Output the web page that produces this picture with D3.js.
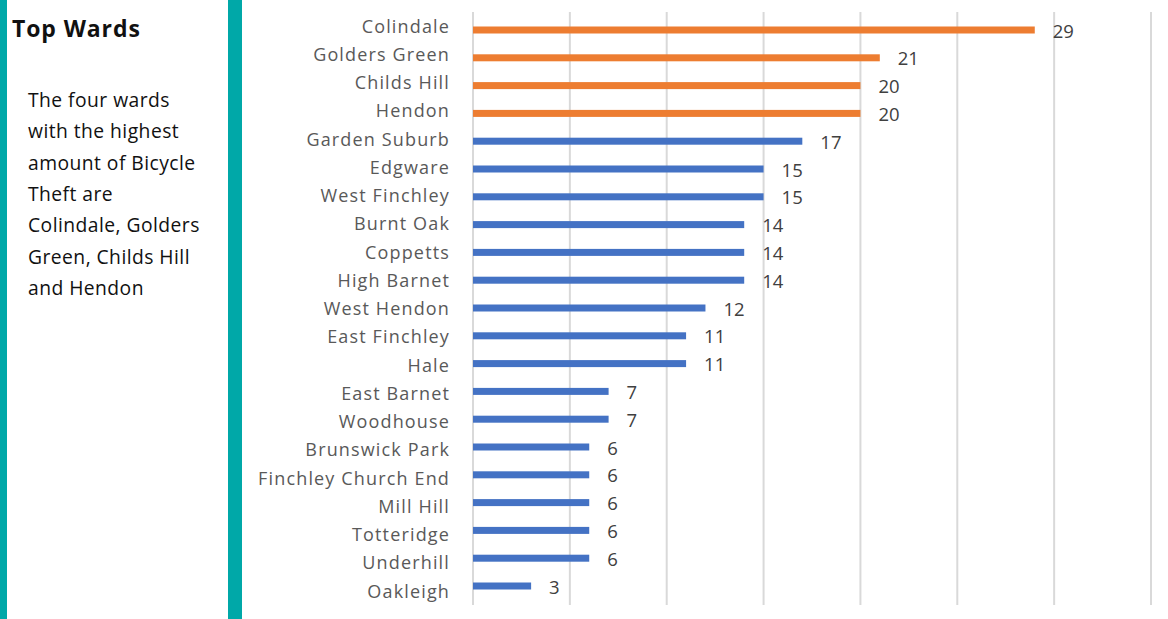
<!DOCTYPE html>
<html><head><meta charset="utf-8">
<script src="https://cdn.jsdelivr.net/npm/d3@7"></script>
<style>
html,body{margin:0;padding:0;background:#fff;}
svg{display:block;}
</style></head>
<body>
<svg id="chart" width="1168" height="619"></svg>
<script>
const wards = ["Colindale","Golders Green","Childs Hill","Hendon","Garden Suburb","Edgware","West Finchley","Burnt Oak","Coppetts","High Barnet","West Hendon","East Finchley","Hale","East Barnet","Woodhouse","Brunswick Park","Finchley Church End","Mill Hill","Totteridge","Underhill","Oakleigh"];
const thefts = [29,21,20,20,17,15,15,14,14,14,12,11,11,7,7,6,6,6,6,6,3];
const topWards = ["Colindale","Golders Green","Childs Hill","Hendon"];
const xTicks = [0,5,10,15,20,25,30,35];
const panelTitle = "Top Wards";
const panelLines = ["The four wards","with the highest","amount of Bicycle","Theft are","Colindale, Golders","Green, Childs Hill","and Hendon"];

const svg = d3.select("#chart");
const teal = "#00A8A8";
const font = "'Open Sans', sans-serif";

// side panel
svg.append("rect").attr("x",0).attr("y",0).attr("width",7).attr("height",619).attr("fill",teal);
svg.append("rect").attr("x",228).attr("y",0).attr("width",14).attr("height",619).attr("fill",teal);
svg.append("text").attr("x",12).attr("y",37).attr("font-family",font)
  .attr("font-weight","bold").attr("font-size",23).attr("letter-spacing","0.9px")
  .attr("fill","#111").text(panelTitle);
svg.append("g").selectAll("text").data(panelLines).join("text")
  .attr("x",28).attr("y",(d,i)=>107+i*31.3)
  .attr("font-family",font).attr("font-size",19.3).attr("letter-spacing","0.45px").attr("fill","#111")
  .text(d=>d);

// chart
const x = d3.scaleLinear().domain([0,35]).range([473,1151]);
const y = d3.scalePoint().domain(wards).range([30,586]);
const yLab = d3.scalePoint().domain(wards).range([26,591]);

svg.append("g").selectAll("line").data(xTicks).join("line")
  .attr("x1",d=>x(d)).attr("x2",d=>x(d)).attr("y1",12).attr("y2",605)
  .attr("stroke","#d9d9d9").attr("stroke-width",2);

const rows = wards.map((w,i)=>({w, v:thefts[i], top: topWards.includes(w)}));

svg.append("g").selectAll("rect").data(rows).join("rect")
  .attr("x",x(0)).attr("y",d=>y(d.w)-3.5).attr("width",d=>x(d.v)-x(0)).attr("height",7)
  .attr("fill",d=>d.top?"#ED7D31":"#4472C4");

svg.append("g").selectAll("text").data(rows).join("text")
  .attr("x",450).attr("y",d=>yLab(d.w)+6.5)
  .attr("text-anchor","end").attr("font-family",font)
  .attr("font-size",18).attr("letter-spacing","1.15px").attr("fill","#595959")
  .text(d=>d.w);

svg.append("g").selectAll("text").data(rows).join("text")
  .attr("x",d=>x(d.v)+18).attr("y",d=>y(d.w)+7.5)
  .attr("font-family",font)
  .attr("font-size",18.5).attr("fill","#404040")
  .text(d=>d.v);
</script>
</body></html>
